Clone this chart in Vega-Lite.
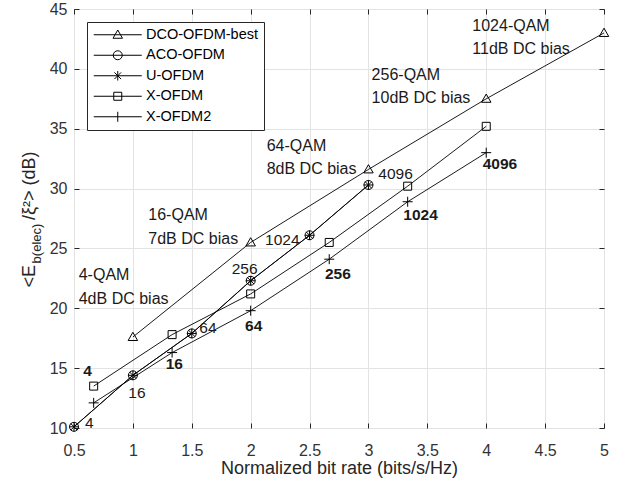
{
  "$schema": "https://vega.github.io/schema/vega-lite/v6.json",
  "width": 530,
  "height": 419,
  "autosize": {"type": "none"},
  "padding": {"left": 74, "top": 9, "right": 20, "bottom": 58},
  "background": "white",
  "config": {
    "view": {"stroke": "#262626", "strokeWidth": 1},
    "font": "Liberation Sans"
  },
  "resolve": {"scale": {"shape": "independent"}, "legend": {"shape": "independent"}},
  "datasets": {
    "series": [
      {"s": "DCO-OFDM-best", "x": 1, "y": 17.6},
      {"s": "DCO-OFDM-best", "x": 2, "y": 25.5},
      {"s": "DCO-OFDM-best", "x": 3, "y": 31.6},
      {"s": "DCO-OFDM-best", "x": 4, "y": 37.5},
      {"s": "DCO-OFDM-best", "x": 5, "y": 43.0},
      {"s": "ACO-OFDM", "x": 0.5, "y": 10.1},
      {"s": "ACO-OFDM", "x": 1, "y": 14.4},
      {"s": "ACO-OFDM", "x": 1.5, "y": 17.9},
      {"s": "ACO-OFDM", "x": 2, "y": 22.3},
      {"s": "ACO-OFDM", "x": 2.5, "y": 26.1},
      {"s": "ACO-OFDM", "x": 3, "y": 30.3},
      {"s": "U-OFDM", "x": 0.5, "y": 10.1},
      {"s": "U-OFDM", "x": 1, "y": 14.4},
      {"s": "U-OFDM", "x": 1.5, "y": 17.9},
      {"s": "U-OFDM", "x": 2, "y": 22.3},
      {"s": "U-OFDM", "x": 2.5, "y": 26.1},
      {"s": "U-OFDM", "x": 3, "y": 30.3},
      {"s": "X-OFDM", "x": 0.667, "y": 13.5},
      {"s": "X-OFDM", "x": 1.333, "y": 17.8},
      {"s": "X-OFDM", "x": 2, "y": 21.2},
      {"s": "X-OFDM", "x": 2.667, "y": 25.5},
      {"s": "X-OFDM", "x": 3.333, "y": 30.2},
      {"s": "X-OFDM", "x": 4, "y": 35.2},
      {"s": "X-OFDM2", "x": 0.667, "y": 12.1},
      {"s": "X-OFDM2", "x": 1.333, "y": 16.3},
      {"s": "X-OFDM2", "x": 2, "y": 19.8},
      {"s": "X-OFDM2", "x": 2.667, "y": 24.1},
      {"s": "X-OFDM2", "x": 3.333, "y": 28.9},
      {"s": "X-OFDM2", "x": 4, "y": 33.0}
    ],
    "notes": [
      {"t": "1024-QAM", "x": 3.882, "y": 43.6},
      {"t": "11dB DC bias", "x": 3.882, "y": 41.7},
      {"t": "256-QAM", "x": 3.027, "y": 39.47},
      {"t": "10dB DC bias", "x": 3.027, "y": 37.55},
      {"t": "64-QAM", "x": 2.136, "y": 33.56},
      {"t": "8dB DC bias", "x": 2.136, "y": 31.6},
      {"t": "16-QAM", "x": 1.131, "y": 27.77},
      {"t": "7dB DC bias", "x": 1.131, "y": 25.76},
      {"t": "4-QAM", "x": 0.54, "y": 22.76},
      {"t": "4dB DC bias", "x": 0.54, "y": 20.81}
    ],
    "nums": [
      {"t": "4", "x": 0.593, "y": 10.4},
      {"t": "16", "x": 0.961, "y": 12.92},
      {"t": "64", "x": 1.564, "y": 18.35},
      {"t": "256", "x": 1.839, "y": 23.32},
      {"t": "1024", "x": 2.122, "y": 25.68},
      {"t": "4096", "x": 3.084, "y": 31.25}
    ],
    "bold": [
      {"t": "4", "x": 0.579, "y": 14.76},
      {"t": "16", "x": 1.279, "y": 15.32},
      {"t": "64", "x": 1.952, "y": 18.52},
      {"t": "256", "x": 2.631, "y": 22.9},
      {"t": "1024", "x": 3.296, "y": 27.77},
      {"t": "4096", "x": 3.97, "y": 32.09}
    ]
  },
  "layer": [
    {
      "data": {"name": "series"},
      "mark": {"type": "line", "color": "black", "strokeWidth": 0.9},
      "encoding": {
        "x": {
          "field": "x", "type": "quantitative",
          "scale": {"domain": [0.5, 5], "nice": false, "zero": false},
          "axis": {
            "orient": "bottom",
            "values": [0.5, 1, 1.5, 2, 2.5, 3, 3.5, 4, 4.5, 5],
            "format": "~g",
            "labelFlush": false,
            "title": "Normalized bit rate (bits/s/Hz)",
            "grid": true, "gridColor": "#e3e3e3",
            "domain": false,
            "tickSize": -5, "tickColor": "#262626",
            "labelFont": "Liberation Sans", "labelFontSize": 16, "labelColor": "#333333",
            "labelPadding": 19,
            "titleFont": "Liberation Sans", "titleFontSize": 18, "titleFontWeight": "normal", "titleColor": "#262626",
            "titlePadding": 1
          }
        },
        "y": {
          "field": "y", "type": "quantitative",
          "scale": {"domain": [10, 45], "nice": false, "zero": false},
          "axis": {
            "orient": "left",
            "values": [10, 15, 20, 25, 30, 35, 40, 45],
            "format": "~g",
            "labelFlush": false,
            "title": "<E\u00a0\u00a0\u00a0\u00a0\u00a0\u00a0\u00a0\u00a0\u00a0/ξ²> (dB)",
            "grid": true, "gridColor": "#e3e3e3",
            "domain": false,
            "tickSize": -5, "tickColor": "#262626",
            "labelFont": "Liberation Sans", "labelFontSize": 16, "labelColor": "#333333",
            "labelPadding": 12,
            "titleFont": "Liberation Sans", "titleFontSize": 18, "titleFontWeight": "normal", "titleColor": "#262626",
            "titleAngle": 270, "titleBaseline": "bottom", "titleAlign": "center",
            "titleX": -36, "titleY": 210
          }
        },
        "detail": {"field": "s"}
      }
    },
    {
      "data": {"name": "series"},
      "mark": {"type": "point", "filled": false, "color": "black", "strokeWidth": 1, "size": 100, "opacity": 1},
      "encoding": {
        "x": {
          "field": "x", "type": "quantitative",
          "scale": {"domain": [0.5, 5], "nice": false, "zero": false},
          "axis": {
            "orient": "top",
            "values": [0.5, 1, 1.5, 2, 2.5, 3, 3.5, 4, 4.5, 5],
            "labels": false, "grid": false, "domain": false,
            "tickSize": -5, "tickColor": "#262626",
            "title": "b(elec)",
            "titleFont": "Liberation Sans", "titleFontSize": 13, "titleFontWeight": "normal", "titleColor": "#262626",
            "titleAngle": 270, "titleBaseline": "bottom", "titleAlign": "center",
            "titleX": -31, "titleY": 234
          }
        },
        "y": {
          "field": "y", "type": "quantitative",
          "scale": {"domain": [10, 45], "nice": false, "zero": false},
          "axis": {
            "orient": "right",
            "values": [10, 15, 20, 25, 30, 35, 40, 45],
            "labels": false, "grid": false, "domain": false,
            "tickSize": -5, "tickColor": "#262626",
            "title": null
          }
        },
        "shape": {
          "field": "s", "type": "nominal",
          "scale": {
            "domain": ["DCO-OFDM-best", "ACO-OFDM", "U-OFDM", "X-OFDM", "X-OFDM2"],
            "range": [
              "M0,-0.95L0.95,0.7L-0.95,0.7Z",
              "M0.9,0A0.9,0.9,0,1,1,-0.9,0A0.9,0.9,0,1,1,0.9,0Z",
              "M-0.95,0H0.95M0,-0.95V0.95M-0.67,-0.67L0.67,0.67M-0.67,0.67L0.67,-0.67",
              "M-0.8,-0.8H0.8V0.8H-0.8Z",
              "M-1,0H1M0,-1V1"
            ]
          },
          "legend": null
        }
      }
    },
    {
      "data": {"values": []},
      "mark": {"type": "point", "filled": false, "color": "black", "strokeWidth": 1, "size": 100, "opacity": 1},
      "encoding": {
        "shape": {
          "field": "s", "type": "nominal",
          "scale": {
            "domain": ["DCO-OFDM-best", "ACO-OFDM", "U-OFDM", "X-OFDM", "X-OFDM2"],
            "range": [
              "M-4.8,0H4.8M0,-0.95L0.95,0.7L-0.95,0.7Z",
              "M-4.8,0H4.8M0.9,0A0.9,0.9,0,1,1,-0.9,0A0.9,0.9,0,1,1,0.9,0Z",
              "M-4.8,0H4.8M0,-0.95V0.95M-0.67,-0.67L0.67,0.67M-0.67,0.67L0.67,-0.67",
              "M-4.8,0H4.8M-0.8,-0.8H0.8V0.8H-0.8Z",
              "M-4.8,0H4.8M0,-1V1"
            ]
          },
          "legend": {
            "title": null,
            "orient": "top-left",
            "offset": 13,
            "padding": 5.5,
            "strokeColor": "#262626",
            "fillColor": "white",
            "labelFont": "Liberation Sans",
            "labelFontSize": 14.5,
            "labelColor": "black",
            "symbolSize": 100,
            "symbolOffset": 18,
            "labelOffset": 21,
            "rowPadding": 5.5,
            "symbolStrokeColor": "black",
            "symbolStrokeWidth": 1,
            "symbolFillColor": "transparent"
          }
        }
      }
    },
    {
      "data": {"name": "notes"},
      "mark": {"type": "text", "align": "left", "baseline": "middle", "font": "Liberation Sans", "fontSize": 16, "color": "#1a1a1a"},
      "encoding": {
        "x": {"field": "x", "type": "quantitative", "scale": {"domain": [0.5, 5], "nice": false, "zero": false}, "axis": null},
        "y": {"field": "y", "type": "quantitative", "scale": {"domain": [10, 45], "nice": false, "zero": false}, "axis": null},
        "text": {"field": "t"}
      }
    },
    {
      "data": {"name": "nums"},
      "mark": {"type": "text", "align": "left", "baseline": "middle", "font": "Liberation Sans", "fontSize": 15.5, "color": "#1a1a1a"},
      "encoding": {
        "x": {"field": "x", "type": "quantitative", "scale": {"domain": [0.5, 5], "nice": false, "zero": false}, "axis": null},
        "y": {"field": "y", "type": "quantitative", "scale": {"domain": [10, 45], "nice": false, "zero": false}, "axis": null},
        "text": {"field": "t"}
      }
    },
    {
      "data": {"name": "bold"},
      "mark": {"type": "text", "align": "left", "baseline": "middle", "font": "Liberation Sans", "fontSize": 15.5, "fontWeight": "bold", "color": "#1a1a1a"},
      "encoding": {
        "x": {"field": "x", "type": "quantitative", "scale": {"domain": [0.5, 5], "nice": false, "zero": false}, "axis": null},
        "y": {"field": "y", "type": "quantitative", "scale": {"domain": [10, 45], "nice": false, "zero": false}, "axis": null},
        "text": {"field": "t"}
      }
    }
  ]
}
